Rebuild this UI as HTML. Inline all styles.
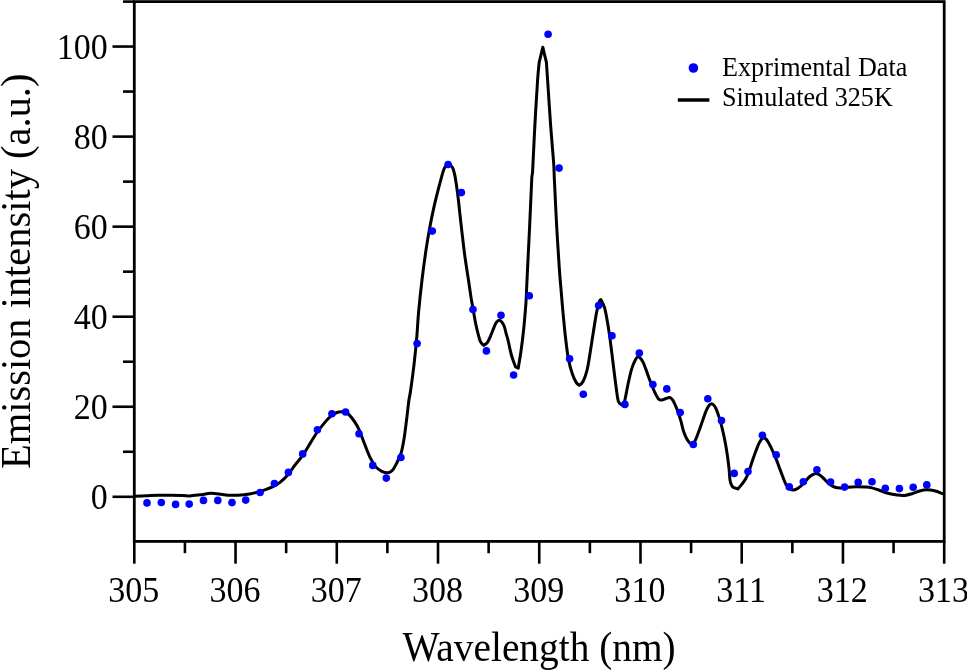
<!DOCTYPE html>
<html><head><meta charset="utf-8"><style>
html,body{margin:0;padding:0;background:#fff;width:967px;height:670px;overflow:hidden;}
svg{display:block;font-family:"Liberation Serif", serif;will-change:transform;}
</style></head><body>
<svg width="967" height="670" viewBox="0 0 967 670">
<rect x="134.30" y="1.6" width="809.90" height="539.80" fill="none" stroke="#000" stroke-width="2.8"/>
<line x1="112.50" y1="496.80" x2="134.30" y2="496.80" stroke="#000" stroke-width="2.6"/>
<text transform="translate(107.80,509.30) scale(0.9250,1)" text-anchor="end" font-size="36.80">0</text>
<line x1="123.00" y1="451.77" x2="134.30" y2="451.77" stroke="#000" stroke-width="2.6"/>
<line x1="112.50" y1="406.75" x2="134.30" y2="406.75" stroke="#000" stroke-width="2.6"/>
<text transform="translate(107.80,419.25) scale(0.9250,1)" text-anchor="end" font-size="36.80">20</text>
<line x1="123.00" y1="361.73" x2="134.30" y2="361.73" stroke="#000" stroke-width="2.6"/>
<line x1="112.50" y1="316.70" x2="134.30" y2="316.70" stroke="#000" stroke-width="2.6"/>
<text transform="translate(107.80,329.20) scale(0.9250,1)" text-anchor="end" font-size="36.80">40</text>
<line x1="123.00" y1="271.67" x2="134.30" y2="271.67" stroke="#000" stroke-width="2.6"/>
<line x1="112.50" y1="226.65" x2="134.30" y2="226.65" stroke="#000" stroke-width="2.6"/>
<text transform="translate(107.80,239.15) scale(0.9250,1)" text-anchor="end" font-size="36.80">60</text>
<line x1="123.00" y1="181.62" x2="134.30" y2="181.62" stroke="#000" stroke-width="2.6"/>
<line x1="112.50" y1="136.60" x2="134.30" y2="136.60" stroke="#000" stroke-width="2.6"/>
<text transform="translate(107.80,149.10) scale(0.9250,1)" text-anchor="end" font-size="36.80">80</text>
<line x1="123.00" y1="91.57" x2="134.30" y2="91.57" stroke="#000" stroke-width="2.6"/>
<line x1="112.50" y1="46.55" x2="134.30" y2="46.55" stroke="#000" stroke-width="2.6"/>
<text transform="translate(107.80,59.05) scale(0.9250,1)" text-anchor="end" font-size="36.80">100</text>
<line x1="123.00" y1="1.60" x2="134.30" y2="1.60" stroke="#000" stroke-width="2.6"/>
<line x1="134.30" y1="541.4" x2="134.30" y2="563.70" stroke="#000" stroke-width="2.6"/>
<text transform="translate(133.70,601.70) scale(0.9250,1)" text-anchor="middle" font-size="36.80">305</text>
<line x1="184.92" y1="541.4" x2="184.92" y2="553.20" stroke="#000" stroke-width="2.6"/>
<line x1="235.54" y1="541.4" x2="235.54" y2="563.70" stroke="#000" stroke-width="2.6"/>
<text transform="translate(234.94,601.70) scale(0.9250,1)" text-anchor="middle" font-size="36.80">306</text>
<line x1="286.16" y1="541.4" x2="286.16" y2="553.20" stroke="#000" stroke-width="2.6"/>
<line x1="336.78" y1="541.4" x2="336.78" y2="563.70" stroke="#000" stroke-width="2.6"/>
<text transform="translate(336.18,601.70) scale(0.9250,1)" text-anchor="middle" font-size="36.80">307</text>
<line x1="387.39" y1="541.4" x2="387.39" y2="553.20" stroke="#000" stroke-width="2.6"/>
<line x1="438.01" y1="541.4" x2="438.01" y2="563.70" stroke="#000" stroke-width="2.6"/>
<text transform="translate(437.41,601.70) scale(0.9250,1)" text-anchor="middle" font-size="36.80">308</text>
<line x1="488.63" y1="541.4" x2="488.63" y2="553.20" stroke="#000" stroke-width="2.6"/>
<line x1="539.25" y1="541.4" x2="539.25" y2="563.70" stroke="#000" stroke-width="2.6"/>
<text transform="translate(538.65,601.70) scale(0.9250,1)" text-anchor="middle" font-size="36.80">309</text>
<line x1="589.87" y1="541.4" x2="589.87" y2="553.20" stroke="#000" stroke-width="2.6"/>
<line x1="640.49" y1="541.4" x2="640.49" y2="563.70" stroke="#000" stroke-width="2.6"/>
<text transform="translate(639.89,601.70) scale(0.9250,1)" text-anchor="middle" font-size="36.80">310</text>
<line x1="691.11" y1="541.4" x2="691.11" y2="553.20" stroke="#000" stroke-width="2.6"/>
<line x1="741.73" y1="541.4" x2="741.73" y2="563.70" stroke="#000" stroke-width="2.6"/>
<text transform="translate(741.13,601.70) scale(0.9250,1)" text-anchor="middle" font-size="36.80">311</text>
<line x1="792.34" y1="541.4" x2="792.34" y2="553.20" stroke="#000" stroke-width="2.6"/>
<line x1="842.96" y1="541.4" x2="842.96" y2="563.70" stroke="#000" stroke-width="2.6"/>
<text transform="translate(842.36,601.70) scale(0.9250,1)" text-anchor="middle" font-size="36.80">312</text>
<line x1="893.58" y1="541.4" x2="893.58" y2="553.20" stroke="#000" stroke-width="2.6"/>
<line x1="944.20" y1="541.4" x2="944.20" y2="563.70" stroke="#000" stroke-width="2.6"/>
<text transform="translate(943.60,601.70) scale(0.9250,1)" text-anchor="middle" font-size="36.80">313</text>
<path d="M134.50,496.30 C136.42,496.22 141.95,495.98 146.00,495.80 C150.05,495.62 154.60,495.30 158.80,495.20 C163.00,495.10 167.17,495.13 171.20,495.20 C175.23,495.27 179.90,495.48 183.00,495.60 C186.10,495.72 186.97,496.03 189.80,495.90 C192.63,495.77 196.50,495.23 200.00,494.80 C203.50,494.37 207.63,493.43 210.80,493.30 C213.97,493.17 216.12,493.68 219.00,494.00 C221.88,494.32 224.93,495.00 228.10,495.20 C231.27,495.40 234.42,495.40 238.00,495.20 C241.58,495.00 246.28,494.53 249.60,494.00 C252.92,493.47 255.13,492.77 257.90,492.00 C260.67,491.23 263.45,490.43 266.20,489.40 C268.95,488.37 272.10,486.97 274.40,485.80 C276.70,484.63 277.67,484.33 280.00,482.40 C282.33,480.47 285.90,477.10 288.40,474.20 C290.90,471.30 292.62,468.13 295.00,465.00 C297.38,461.87 300.10,459.13 302.70,455.40 C305.30,451.67 308.22,446.42 310.60,442.60 C312.98,438.78 314.58,435.92 317.00,432.50 C319.42,429.08 322.78,424.83 325.10,422.10 C327.42,419.37 328.93,417.70 330.90,416.10 C332.87,414.50 335.12,413.23 336.90,412.50 C338.68,411.77 340.13,411.72 341.60,411.70 C343.07,411.68 344.47,411.92 345.70,412.40 C346.93,412.88 347.47,412.98 349.00,414.60 C350.53,416.22 353.17,419.48 354.90,422.10 C356.63,424.72 357.90,426.95 359.40,430.30 C360.90,433.65 362.15,437.72 363.90,442.20 C365.65,446.68 367.92,453.08 369.90,457.20 C371.88,461.32 373.82,464.55 375.80,466.90 C377.78,469.25 379.80,470.32 381.80,471.30 C383.80,472.28 386.07,472.92 387.80,472.80 C389.53,472.68 390.72,472.22 392.20,470.60 C393.68,468.98 395.20,466.08 396.70,463.10 C398.20,460.12 399.95,456.92 401.20,452.70 C402.45,448.48 403.27,443.58 404.20,437.80 C405.13,432.02 406.03,424.13 406.80,418.00 C407.57,411.87 408.17,405.58 408.80,401.00 C409.43,396.42 409.72,396.70 410.60,390.50 C411.48,384.30 413.07,372.73 414.10,363.80 C415.13,354.87 416.05,345.53 416.80,336.90 C417.55,328.27 417.73,321.48 418.60,312.00 C419.47,302.52 420.77,290.33 422.00,280.00 C423.23,269.67 424.73,258.60 426.00,250.00 C427.27,241.40 428.27,235.58 429.60,228.40 C430.93,221.22 432.57,213.37 434.00,206.90 C435.43,200.43 437.00,194.35 438.20,189.60 C439.40,184.85 440.27,181.75 441.20,178.40 C442.13,175.05 442.97,171.63 443.80,169.50 C444.63,167.37 445.42,166.42 446.20,165.60 C446.98,164.78 447.72,164.62 448.50,164.60 C449.28,164.58 450.13,164.78 450.90,165.50 C451.67,166.22 452.42,167.13 453.10,168.90 C453.78,170.67 454.35,172.75 455.00,176.10 C455.65,179.45 456.43,185.02 457.00,189.00 C457.57,192.98 457.95,196.13 458.40,200.00 C458.85,203.87 459.12,206.93 459.70,212.20 C460.28,217.47 461.18,225.37 461.90,231.60 C462.62,237.83 463.42,244.87 464.00,249.60 C464.58,254.33 464.92,256.62 465.40,260.00 C465.88,263.38 466.27,265.75 466.90,269.90 C467.53,274.05 468.45,279.92 469.20,284.90 C469.95,289.88 470.73,295.70 471.40,299.80 C472.07,303.90 472.58,306.02 473.20,309.50 C473.82,312.98 474.40,317.10 475.10,320.70 C475.80,324.30 476.55,327.68 477.40,331.10 C478.25,334.52 479.17,338.82 480.20,341.20 C481.23,343.58 483.03,344.70 483.60,345.40 C484.25,344.88 486.37,343.82 487.50,342.30 C488.63,340.78 489.42,338.53 490.40,336.30 C491.38,334.07 492.47,331.13 493.40,328.90 C494.33,326.67 495.07,324.33 496.00,322.90 C496.93,321.47 498.00,320.42 499.00,320.30 C500.00,320.18 501.12,321.15 502.00,322.20 C502.88,323.25 503.62,324.73 504.30,326.60 C504.98,328.47 505.48,331.15 506.10,333.40 C506.72,335.65 507.43,337.87 508.00,340.10 C508.57,342.33 509.00,344.57 509.50,346.80 C510.00,349.03 510.45,351.38 511.00,353.50 C511.55,355.62 512.05,357.28 512.80,359.50 C513.55,361.72 515.05,365.58 515.50,366.80 C515.95,367.03 517.75,367.97 518.20,368.20 C518.65,365.47 520.02,358.02 520.90,351.80 C521.78,345.58 522.75,337.87 523.50,330.90 C524.25,323.93 524.97,315.15 525.40,310.00 C525.83,304.85 525.75,306.73 526.10,300.00 C526.45,293.27 526.90,282.13 527.50,269.60 C528.10,257.07 529.00,239.73 529.70,224.80 C530.40,209.87 531.20,189.20 531.70,180.00 C532.20,170.80 532.17,178.80 532.70,169.60 C533.23,160.40 534.08,139.73 534.90,124.80 C535.72,109.87 536.88,90.40 537.60,80.00 C538.32,69.60 538.93,65.33 539.20,62.40 C539.80,59.87 542.20,49.73 542.80,47.20 C543.40,49.73 545.80,59.87 546.40,62.40 C546.60,65.33 546.90,69.60 547.60,80.00 C548.30,90.40 549.60,111.12 550.60,124.80 C551.60,138.48 552.97,152.90 553.60,162.10 C554.23,171.30 553.90,169.55 554.40,180.00 C554.90,190.45 555.77,209.87 556.60,224.80 C557.43,239.73 558.58,257.90 559.40,269.60 C560.22,281.30 560.87,287.50 561.50,295.00 C562.13,302.50 562.50,307.23 563.20,314.60 C563.90,321.97 564.83,331.82 565.70,339.20 C566.57,346.58 567.32,353.17 568.40,358.90 C569.48,364.63 570.88,369.65 572.20,373.60 C573.52,377.55 575.12,380.65 576.30,382.60 C577.48,384.55 578.80,384.85 579.30,385.30 C579.90,384.72 581.62,384.30 582.90,381.80 C584.18,379.30 585.78,375.22 587.00,370.30 C588.22,365.38 589.12,358.85 590.20,352.30 C591.28,345.75 592.40,337.83 593.50,331.00 C594.60,324.17 595.83,316.22 596.80,311.30 C597.77,306.38 598.62,303.45 599.30,301.50 C599.98,299.55 600.63,299.92 600.90,299.60 C601.52,300.98 603.50,304.12 604.60,307.90 C605.70,311.68 606.57,316.92 607.50,322.30 C608.43,327.68 609.30,333.63 610.20,340.20 C611.10,346.77 612.00,354.53 612.90,361.70 C613.80,368.87 614.70,376.63 615.60,383.20 C616.50,389.77 617.25,397.48 618.30,401.10 C619.35,404.72 621.30,404.27 621.90,404.90 C622.35,404.27 623.55,404.72 624.60,401.10 C625.65,397.48 627.02,388.57 628.20,383.20 C629.38,377.83 630.52,372.78 631.70,368.90 C632.88,365.02 634.17,361.92 635.30,359.90 C636.43,357.88 637.25,356.50 638.50,356.80 C639.75,357.10 641.60,359.68 642.80,361.70 C644.00,363.72 644.72,366.32 645.70,368.90 C646.68,371.48 647.70,374.52 648.70,377.20 C649.70,379.88 650.70,382.52 651.70,385.00 C652.70,387.48 653.60,389.82 654.70,392.10 C655.80,394.38 657.12,397.37 658.30,398.70 C659.48,400.03 660.52,400.13 661.80,400.10 C663.08,400.07 664.70,398.93 666.00,398.50 C667.30,398.07 668.50,397.27 669.60,397.50 C670.70,397.73 671.60,398.50 672.60,399.90 C673.60,401.30 674.63,403.72 675.60,405.90 C676.57,408.08 677.50,410.42 678.40,413.00 C679.30,415.58 680.13,418.32 681.00,421.40 C681.87,424.48 682.52,428.38 683.60,431.50 C684.68,434.62 686.20,438.02 687.50,440.10 C688.80,442.18 690.22,443.73 691.40,444.00 C692.58,444.27 693.42,443.65 694.60,441.70 C695.78,439.75 697.20,435.70 698.50,432.30 C699.80,428.90 701.10,424.95 702.40,421.30 C703.70,417.65 705.12,413.13 706.30,410.40 C707.48,407.67 708.45,405.95 709.50,404.90 C710.55,403.85 711.57,403.58 712.60,404.10 C713.63,404.62 714.65,405.92 715.70,408.00 C716.75,410.08 717.85,413.33 718.90,416.60 C719.95,419.87 720.97,423.42 722.00,427.60 C723.03,431.78 724.22,437.13 725.10,441.70 C725.98,446.27 726.65,450.57 727.30,455.00 C727.95,459.43 728.55,464.12 729.00,468.30 C729.45,472.48 729.60,477.38 730.00,480.10 C730.40,482.82 730.87,483.42 731.40,484.60 C731.93,485.78 732.12,486.48 733.20,487.20 C734.28,487.92 737.12,488.62 737.90,488.90 C738.55,488.15 740.50,486.08 741.80,484.40 C743.10,482.72 744.48,481.05 745.70,478.80 C746.92,476.55 747.98,473.90 749.10,470.90 C750.22,467.90 751.28,464.07 752.40,460.80 C753.52,457.53 754.67,454.28 755.80,451.30 C756.93,448.32 758.08,445.05 759.20,442.90 C760.32,440.75 761.38,439.05 762.50,438.40 C763.62,437.75 764.78,438.07 765.90,439.00 C767.02,439.93 768.08,442.03 769.20,444.00 C770.32,445.97 771.47,448.37 772.60,450.80 C773.73,453.23 774.88,455.80 776.00,458.60 C777.12,461.40 778.18,464.62 779.30,467.60 C780.42,470.58 781.58,473.70 782.70,476.50 C783.82,479.30 784.78,482.32 786.00,484.40 C787.22,486.48 788.77,488.07 790.00,489.00 C791.23,489.93 792.07,490.13 793.40,490.00 C794.73,489.87 796.30,489.28 798.00,488.20 C799.70,487.12 801.73,485.37 803.60,483.50 C805.47,481.63 807.33,478.63 809.20,477.00 C811.07,475.37 813.10,474.08 814.80,473.70 C816.50,473.32 817.85,473.83 819.40,474.70 C820.95,475.57 822.55,477.43 824.10,478.90 C825.65,480.37 827.00,482.15 828.70,483.50 C830.40,484.85 832.28,486.25 834.30,487.00 C836.32,487.75 838.47,487.97 840.80,488.00 C843.13,488.03 845.82,487.40 848.30,487.20 C850.78,487.00 852.92,486.83 855.70,486.80 C858.48,486.77 862.45,486.87 865.00,487.00 C867.55,487.13 868.73,487.10 871.00,487.60 C873.27,488.10 875.78,489.05 878.60,490.00 C881.42,490.95 884.80,492.45 887.90,493.30 C891.00,494.15 894.40,494.75 897.20,495.10 C900.00,495.45 902.22,495.63 904.70,495.40 C907.18,495.17 909.62,494.43 912.10,493.70 C914.58,492.97 917.12,491.65 919.60,491.00 C922.08,490.35 924.52,489.83 927.00,489.80 C929.48,489.77 931.87,490.15 934.50,490.80 C937.13,491.45 941.42,493.22 942.80,493.70" fill="none" stroke="#000" stroke-width="3" stroke-linejoin="round" stroke-linecap="round"/>
<circle cx="147.00" cy="502.90" r="3.8" fill="#0000ff"/>
<circle cx="161.30" cy="502.50" r="3.8" fill="#0000ff"/>
<circle cx="175.60" cy="504.40" r="3.8" fill="#0000ff"/>
<circle cx="189.20" cy="504.10" r="3.8" fill="#0000ff"/>
<circle cx="203.50" cy="500.40" r="3.8" fill="#0000ff"/>
<circle cx="217.80" cy="500.40" r="3.8" fill="#0000ff"/>
<circle cx="232.00" cy="502.60" r="3.8" fill="#0000ff"/>
<circle cx="245.70" cy="500.10" r="3.8" fill="#0000ff"/>
<circle cx="260.10" cy="492.50" r="3.8" fill="#0000ff"/>
<circle cx="274.40" cy="483.50" r="3.8" fill="#0000ff"/>
<circle cx="288.40" cy="472.40" r="3.8" fill="#0000ff"/>
<circle cx="302.70" cy="453.90" r="3.8" fill="#0000ff"/>
<circle cx="317.40" cy="429.80" r="3.8" fill="#0000ff"/>
<circle cx="331.90" cy="413.80" r="3.8" fill="#0000ff"/>
<circle cx="345.60" cy="412.00" r="3.8" fill="#0000ff"/>
<circle cx="359.00" cy="433.80" r="3.8" fill="#0000ff"/>
<circle cx="372.80" cy="465.40" r="3.8" fill="#0000ff"/>
<circle cx="386.30" cy="478.10" r="3.8" fill="#0000ff"/>
<circle cx="400.90" cy="457.50" r="3.8" fill="#0000ff"/>
<circle cx="417.10" cy="343.60" r="3.8" fill="#0000ff"/>
<circle cx="432.30" cy="231.10" r="3.8" fill="#0000ff"/>
<circle cx="448.10" cy="164.50" r="3.8" fill="#0000ff"/>
<circle cx="461.40" cy="192.60" r="3.8" fill="#0000ff"/>
<circle cx="473.00" cy="309.50" r="3.8" fill="#0000ff"/>
<circle cx="486.40" cy="350.90" r="3.8" fill="#0000ff"/>
<circle cx="501.00" cy="315.20" r="3.8" fill="#0000ff"/>
<circle cx="513.60" cy="375.00" r="3.8" fill="#0000ff"/>
<circle cx="529.30" cy="295.80" r="3.8" fill="#0000ff"/>
<circle cx="548.10" cy="34.20" r="3.8" fill="#0000ff"/>
<circle cx="559.10" cy="168.10" r="3.8" fill="#0000ff"/>
<circle cx="569.60" cy="358.80" r="3.8" fill="#0000ff"/>
<circle cx="583.30" cy="394.30" r="3.8" fill="#0000ff"/>
<circle cx="598.60" cy="305.60" r="3.8" fill="#0000ff"/>
<circle cx="612.00" cy="335.70" r="3.8" fill="#0000ff"/>
<circle cx="624.90" cy="404.40" r="3.8" fill="#0000ff"/>
<circle cx="639.30" cy="353.00" r="3.8" fill="#0000ff"/>
<circle cx="652.90" cy="384.50" r="3.8" fill="#0000ff"/>
<circle cx="666.80" cy="388.90" r="3.8" fill="#0000ff"/>
<circle cx="680.20" cy="412.60" r="3.8" fill="#0000ff"/>
<circle cx="693.30" cy="444.50" r="3.8" fill="#0000ff"/>
<circle cx="707.80" cy="398.70" r="3.8" fill="#0000ff"/>
<circle cx="721.50" cy="420.50" r="3.8" fill="#0000ff"/>
<circle cx="734.20" cy="473.40" r="3.8" fill="#0000ff"/>
<circle cx="748.00" cy="471.60" r="3.8" fill="#0000ff"/>
<circle cx="762.40" cy="435.20" r="3.8" fill="#0000ff"/>
<circle cx="776.20" cy="454.90" r="3.8" fill="#0000ff"/>
<circle cx="789.30" cy="486.90" r="3.8" fill="#0000ff"/>
<circle cx="803.30" cy="481.80" r="3.8" fill="#0000ff"/>
<circle cx="816.90" cy="469.70" r="3.8" fill="#0000ff"/>
<circle cx="830.60" cy="482.10" r="3.8" fill="#0000ff"/>
<circle cx="844.60" cy="487.10" r="3.8" fill="#0000ff"/>
<circle cx="858.20" cy="482.40" r="3.8" fill="#0000ff"/>
<circle cx="872.00" cy="481.70" r="3.8" fill="#0000ff"/>
<circle cx="885.30" cy="488.20" r="3.8" fill="#0000ff"/>
<circle cx="899.40" cy="488.60" r="3.8" fill="#0000ff"/>
<circle cx="913.20" cy="487.20" r="3.8" fill="#0000ff"/>
<circle cx="926.80" cy="484.90" r="3.8" fill="#0000ff"/>
<circle cx="693.4" cy="68.0" r="4.8" fill="#0000ff"/>
<line x1="677.8" y1="100" x2="709.4" y2="100" stroke="#000" stroke-width="3.6"/>
<text transform="translate(722.00,75.70) scale(0.9770,1)" text-anchor="start" font-size="26.80">Exprimental Data</text>
<text transform="translate(722.00,106.20) scale(0.9770,1)" text-anchor="start" font-size="26.80">Simulated 325K</text>
<text transform="translate(539.00,660.70) scale(0.9370,1)" text-anchor="middle" font-size="42.00">Wavelength (nm)</text>
<text transform="translate(29.80,271.30) rotate(-90) scale(0.9630,1)" text-anchor="middle" font-size="42.00">Emission intensity (a.u.)</text>
</svg>
</body></html>
